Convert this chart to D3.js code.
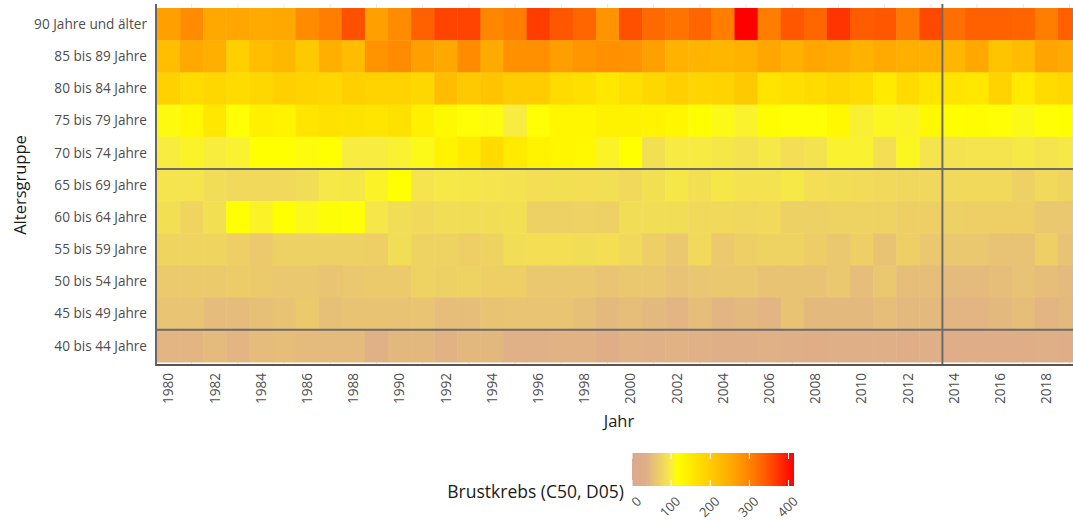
<!DOCTYPE html>
<html>
<head>
<meta charset="utf-8">
<script src="https://cdn.jsdelivr.net/npm/d3@7"></script>
<style>
  html, body { margin: 0; padding: 0; background: #fff; overflow: hidden; }
  svg { display: block; font-family: "Open Sans", "Noto Sans", sans-serif; }
</style>
</head>
<body>
<svg id="chart" width="1073" height="522"></svg>
<script>
/* Brustkrebs (C50, D05) heatmap: age group x year, 1980-2019.
   Values (per 100 000). */

var years = [1980, 1981, 1982, 1983, 1984, 1985, 1986, 1987, 1988, 1989,
             1990, 1991, 1992, 1993, 1994, 1995, 1996, 1997, 1998, 1999,
             2000, 2001, 2002, 2003, 2004, 2005, 2006, 2007, 2008, 2009,
             2010, 2011, 2012, 2013, 2014, 2015, 2016, 2017, 2018, 2019];
var yearTicks = [1980, 1982, 1984, 1986, 1988, 1990, 1992, 1994, 1996, 1998,
                 2000, 2002, 2004, 2006, 2008, 2010, 2012, 2014, 2016, 2018];
var gridYears = [1981, 1983, 1985, 1987, 1989, 1991, 1993, 1995, 1997, 1999,
                 2001, 2003, 2005, 2007, 2009, 2011, 2013, 2015, 2017, 2019];

var ageGroups = ["90 Jahre und älter", "85 bis 89 Jahre", "80 bis 84 Jahre", "75 bis 79 Jahre",
                 "70 bis 74 Jahre", "65 bis 69 Jahre", "60 bis 64 Jahre", "55 bis 59 Jahre",
                 "50 bis 54 Jahre", "45 bis 49 Jahre", "40 bis 44 Jahre"];

var r90 = [265, 290, 255, 258, 252, 255, 290, 305, 350, 265, 290, 335, 360, 360, 295, 305, 365, 345, 330, 280,
           350, 325, 315, 330, 305, 414, 305, 345, 330, 372, 340, 345, 310, 355, 320, 335, 335, 332, 305, 335];
var r85 = [222, 255, 245, 195, 220, 232, 205, 245, 225, 280, 290, 265, 255, 290, 252, 285, 285, 268, 278, 285,
           282, 265, 240, 238, 235, 240, 258, 244, 258, 252, 240, 252, 245, 245, 235, 255, 212, 225, 260, 252];
var r80 = [192, 175, 182, 175, 182, 195, 188, 182, 195, 188, 188, 182, 225, 205, 212, 200, 200, 175, 168, 155,
           168, 182, 195, 185, 188, 205, 160, 168, 175, 182, 175, 150, 175, 160, 160, 155, 188, 150, 175, 182];
var r75 = [112, 128, 155, 115, 140, 135, 158, 165, 162, 158, 165, 140, 125, 115, 113, 100, 115, 130, 130, 138,
           138, 135, 130, 117, 110, 105, 122, 115, 115, 128, 103, 108, 106, 128, 118, 122, 115, 110, 115, 118];
var r70 = [100, 106, 101, 104, 116, 116, 113, 116, 100, 100, 104, 110, 135, 150, 175, 150, 135, 130, 128, 106,
           116, 88, 98, 98, 95, 90, 96, 85, 90, 104, 104, 86, 108, 92, 90, 92, 92, 96, 92, 96];
var r65 = [92, 92, 84, 80, 80, 80, 84, 96, 95, 106, 116, 92, 96, 95, 92, 90, 86, 88, 86, 87,
           80, 88, 95, 88, 95, 90, 90, 96, 85, 84, 82, 80, 78, 78, 80, 80, 80, 72, 80, 76];
var r60 = [88, 76, 88, 116, 106, 116, 109, 114, 115, 94, 84, 80, 84, 84, 84, 88, 72, 72, 73, 72,
           84, 84, 84, 80, 80, 78, 80, 72, 72, 74, 74, 74, 70, 70, 72, 70, 70, 70, 62, 62];
var r55 = [76, 76, 76, 70, 64, 72, 72, 72, 72, 70, 84, 74, 74, 70, 74, 84, 86, 86, 84, 86,
           80, 70, 62, 80, 64, 70, 74, 74, 68, 62, 70, 57, 70, 62, 62, 62, 56, 56, 70, 56];
var r50 = [65, 65, 65, 67, 65, 62, 62, 58, 62, 65, 65, 74, 72, 74, 70, 70, 62, 62, 62, 58,
           62, 62, 56, 60, 62, 62, 57, 57, 57, 62, 52, 62, 52, 52, 48, 48, 52, 56, 52, 48];
var r45 = [58, 58, 50, 50, 54, 57, 65, 54, 57, 57, 57, 58, 52, 52, 57, 58, 58, 58, 54, 47,
           52, 47, 44, 52, 44, 47, 44, 57, 47, 47, 47, 52, 47, 47, 44, 44, 47, 52, 44, 47];
var r40 = [44, 44, 48, 44, 50, 52, 48, 48, 48, 38, 46, 46, 42, 46, 46, 38, 38, 42, 42, 34,
           42, 38, 42, 38, 36, 36, 38, 36, 32, 36, 36, 36, 34, 36, 33, 33, 34, 35, 36, 34];
var rateRows = [r90, r85, r80, r75, r70, r65, r60, r55, r50, r45, r40];

var legendTicks = [0, 100, 200, 300, 400];
var legendMax = 414;
var markYear = 2013;                                      // line after this year
var markAges = ["70 bis 74 Jahre", "45 bis 49 Jahre"];    // lines below these rows

(function () {
  "use strict";
  var svg = d3.select("#chart");

  var left = 157, top = 8, iw = 924, ih = 354;
  var panelTop = 4, panelBottom = 365;

  var x = d3.scaleBand().domain(years).range([left, left + iw]);
  var y = d3.scaleBand().domain(ageGroups).range([top, top + ih]);
  var bw = x.bandwidth(), bh = y.bandwidth();

  var color = d3.scaleLinear()
    .domain([0, 35, 42, 47, 57, 70, 80, 90, 100, 116, 160, 200, 250, 290, 340, 414])
    .range(["#dca88c", "#dfae88", "#e1b384", "#e4b97e", "#e8c374", "#edcf66", "#f1d95b", "#f4e250", "#f8ec40",
            "#ffff00", "#ffe400", "#ffcc00", "#ffac00", "#ff8c00", "#ff5c00", "#ff0000"])
    .clamp(true);

  var cells = [];
  ageGroups.forEach(function (a, i) {
    years.forEach(function (yr, j) { cells.push({ age: a, year: yr, v: rateRows[i][j] }); });
  });

  // ---- faint grid (only shows in the margins of the panel) ----
  svg.append("g").selectAll("line").data(gridYears).enter().append("line")
    .attr("x1", function (d) { return x(d) + bw / 2; }).attr("x2", function (d) { return x(d) + bw / 2; })
    .attr("y1", panelTop).attr("y2", panelBottom)
    .attr("stroke", "#e6e6e6").attr("stroke-width", 1);

  // ---- heat cells ----
  svg.append("g").selectAll("rect").data(cells).enter().append("rect")
    .attr("x", function (d) { return x(d.year); }).attr("y", function (d) { return y(d.age); })
    .attr("width", bw + 0.5).attr("height", bh + 0.5)
    .attr("fill", function (d) { return color(d.v); });

  // ---- marker lines ----
  var mk = svg.append("g").attr("stroke", "#6b6b6b").attr("stroke-width", 2);
  markAges.forEach(function (a) {
    var yy = y(a) + bh;
    mk.append("line").attr("x1", left).attr("x2", left + iw).attr("y1", yy).attr("y2", yy);
  });
  var xx = x(markYear) + bw;
  mk.append("line").attr("x1", xx).attr("x2", xx).attr("y1", panelTop).attr("y2", panelBottom);

  // ---- axis lines ----
  svg.append("line").attr("x1", left - 1).attr("x2", left - 1).attr("y1", panelTop).attr("y2", panelBottom + 1)
    .attr("stroke", "#333").attr("stroke-width", 1.5);
  svg.append("line").attr("x1", left - 1).attr("x2", left + iw).attr("y1", panelBottom).attr("y2", panelBottom)
    .attr("stroke", "#555").attr("stroke-width", 1.8);

  // ---- tick labels ----
  svg.append("g").selectAll("text").data(ageGroups).enter().append("text")
    .attr("x", 147).attr("y", function (d) { return y(d) + bh / 2; }).attr("dy", "0.35em")
    .attr("text-anchor", "end").attr("font-size", 13.6).attr("fill", "#4d4d4d")
    .text(function (d) { return d; });

  svg.append("g").selectAll("text").data(yearTicks).enter().append("text")
    .attr("transform", function (d) { return "translate(" + (x(d) + bw / 2) + ",373) rotate(-90)"; })
    .attr("dy", "0.35em").attr("text-anchor", "end").attr("font-size", 13.6).attr("fill", "#4d4d4d")
    .text(function (d) { return d; });

  // ---- axis titles ----
  svg.append("text").attr("x", left + iw / 2).attr("y", 427).attr("text-anchor", "middle")
    .attr("font-size", 16.5).attr("fill", "#1a1a1a").text("Jahr");
  svg.append("text").attr("transform", "translate(26," + (top + ih / 2) + ") rotate(-90)")
    .attr("text-anchor", "middle").attr("font-size", 16.5).attr("fill", "#1a1a1a").text("Altersgruppe");

  // ---- colour bar legend ----
  var lx = d3.scaleLinear().domain([0, legendMax]).range([632, 794]);
  var barY = 453, barH = 33;
  var grad = svg.append("defs").append("linearGradient").attr("id", "cbar")
    .attr("x1", "0%").attr("x2", "100%").attr("y1", "0%").attr("y2", "0%");
  grad.selectAll("stop").data(color.domain()).enter().append("stop")
    .attr("offset", function (d) { return (d / legendMax * 100) + "%"; })
    .attr("stop-color", function (d) { return color(d); });
  svg.append("rect").attr("x", lx(0)).attr("y", barY).attr("width", lx(legendMax) - lx(0)).attr("height", barH)
    .attr("fill", "url(#cbar)");

  var tk = svg.append("g").attr("stroke", "#fff").attr("stroke-width", 1);
  legendTicks.forEach(function (v) {
    tk.append("line").attr("x1", lx(v)).attr("x2", lx(v)).attr("y1", barY).attr("y2", barY + 6);
    tk.append("line").attr("x1", lx(v)).attr("x2", lx(v)).attr("y1", barY + barH - 6).attr("y2", barY + barH);
  });

  svg.append("g").selectAll("text").data(legendTicks).enter().append("text")
    .attr("transform", function (d) { return "translate(" + (lx(d) + 7) + ",499) rotate(-45)"; })
    .attr("dy", "0.35em").attr("text-anchor", "end").attr("font-size", 13).attr("fill", "#4d4d4d")
    .text(function (d) { return d; });

  svg.append("text").attr("x", 624).attr("y", 498).attr("text-anchor", "end")
    .attr("font-size", 17.5).attr("fill", "#1a1a1a").text("Brustkrebs (C50, D05)");
})();
</script>
</body>
</html>
